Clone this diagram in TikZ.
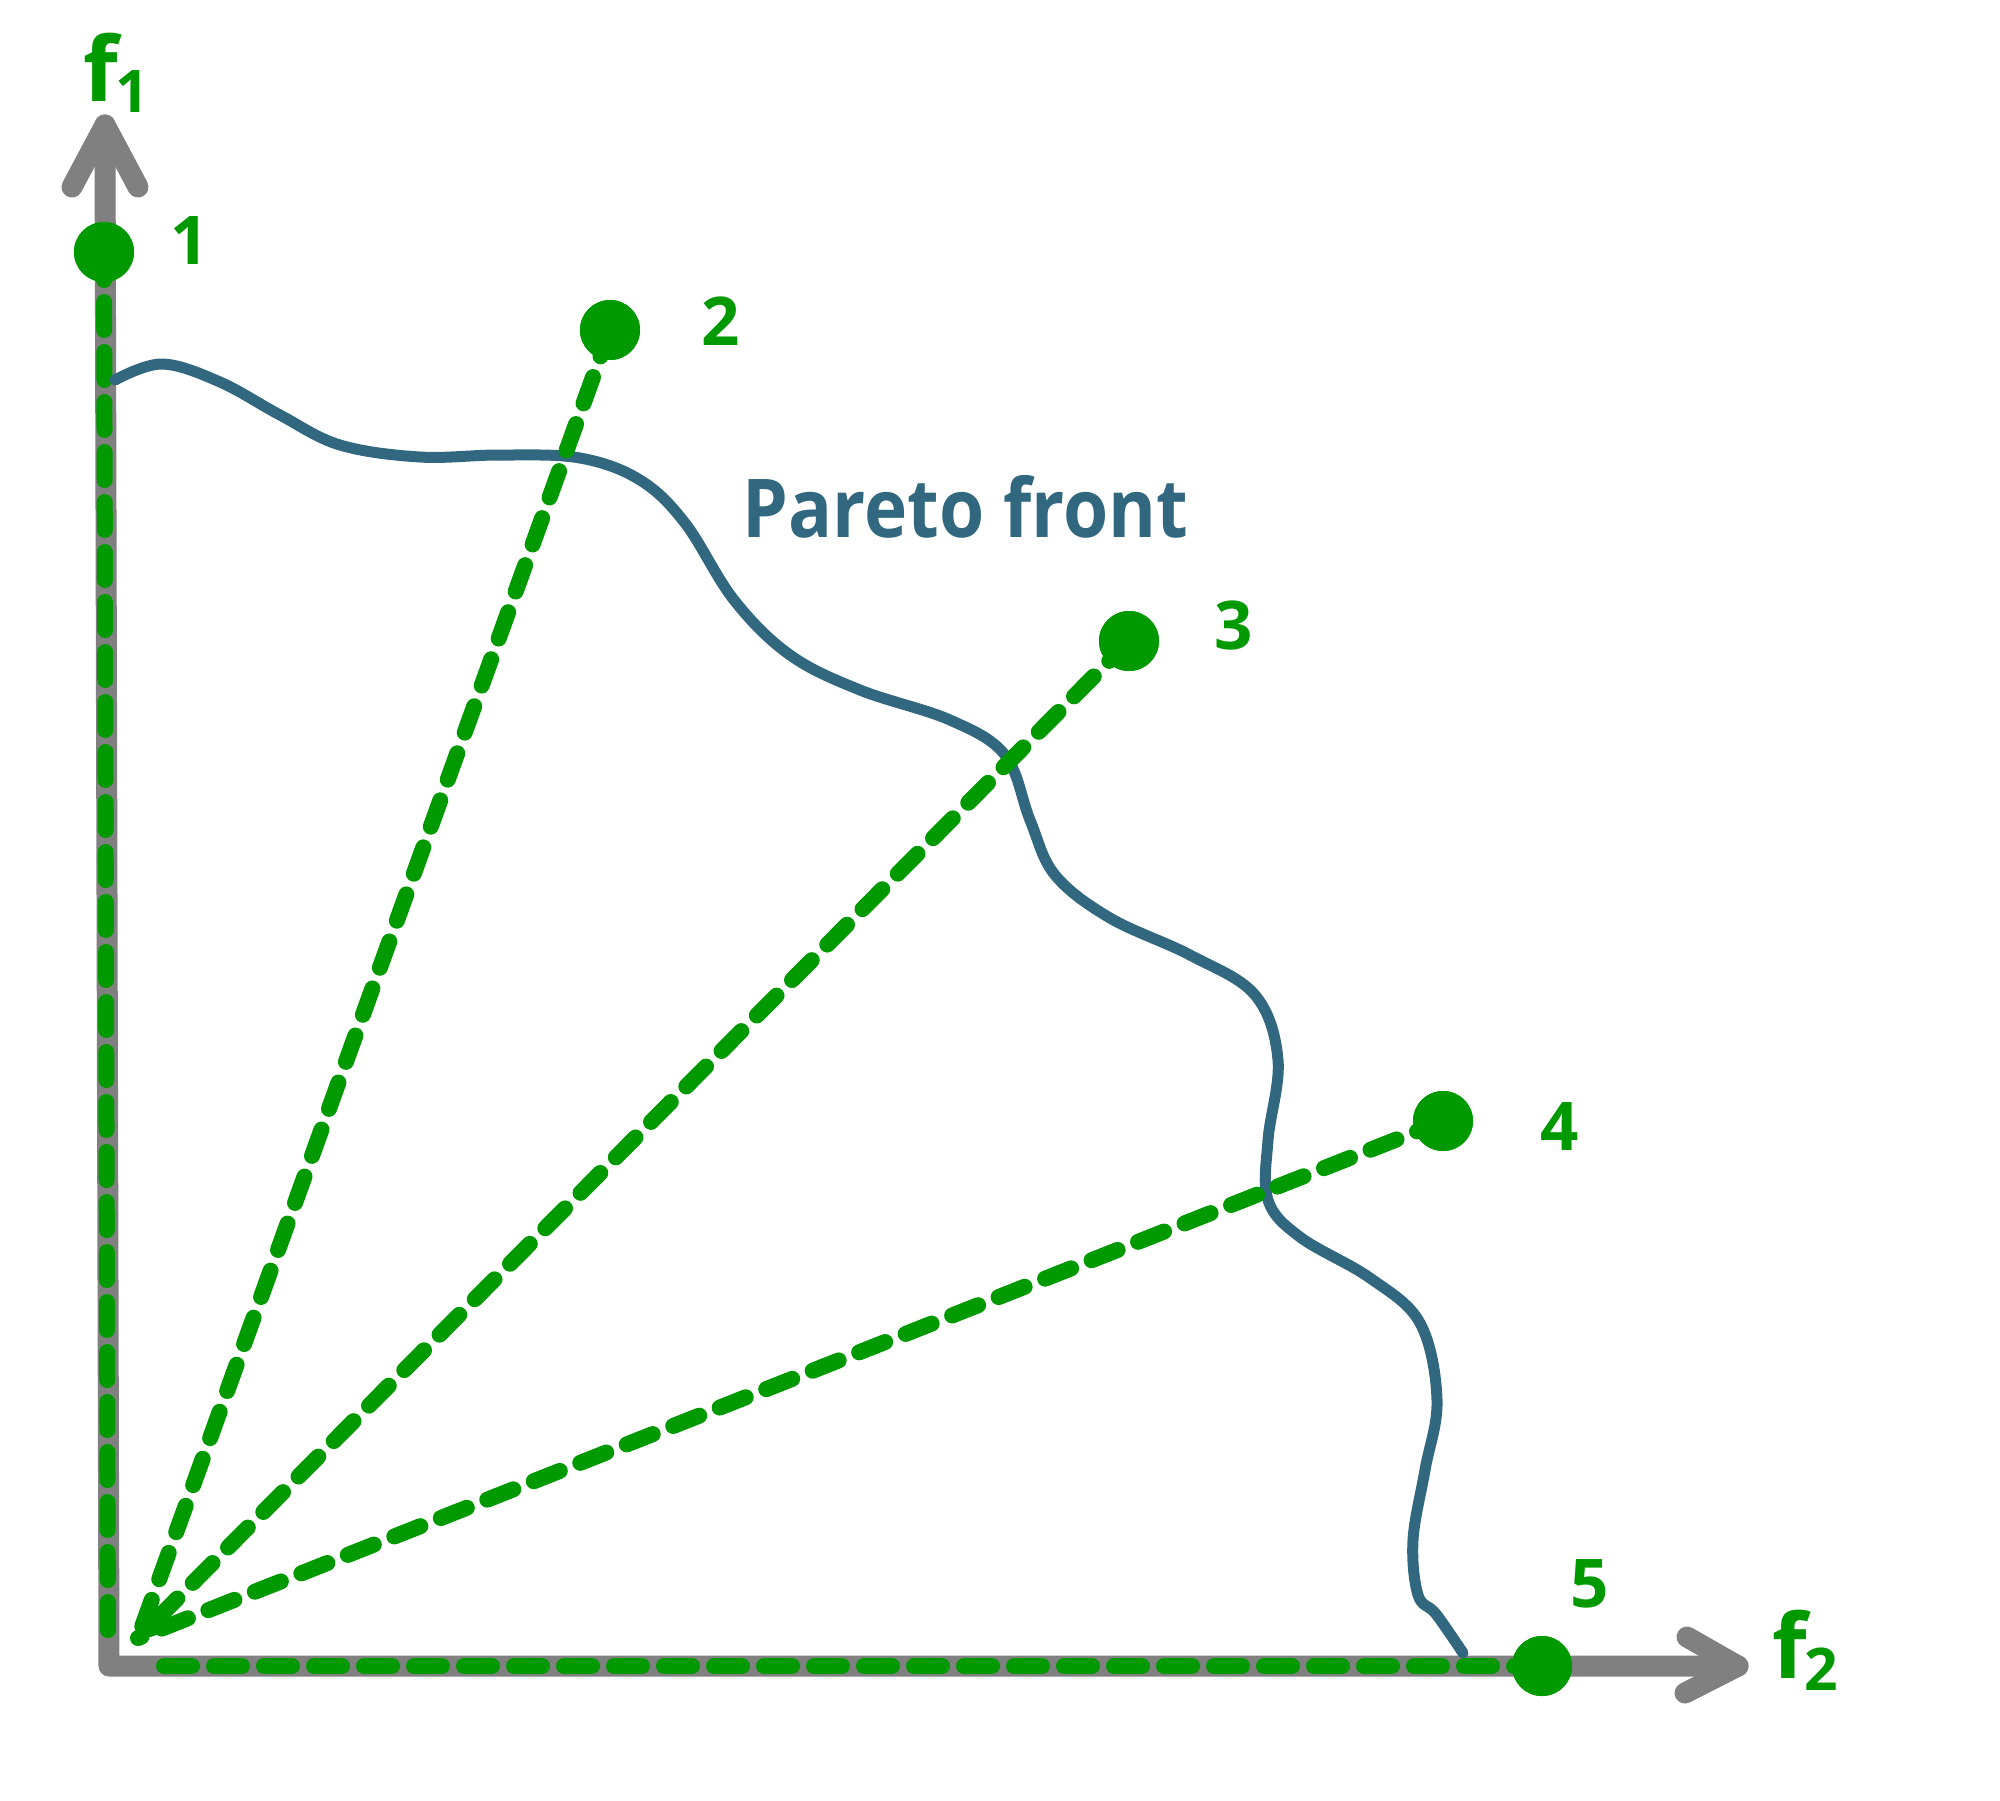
\documentclass[tikz,border=0pt]{standalone}
\usepackage{fontspec}
\setmainfont{Open Sans}
\usetikzlibrary{arrows.meta}
\definecolor{ptgreen}{RGB}{0,153,0}
\definecolor{ptblue}{RGB}{49,104,128}
\definecolor{axgray}{RGB}{128,128,128}
\tikzset{
  axisline/.style={draw=axgray, line width=10.5pt, line cap=round, line join=round},
  dashline/.style={draw=ptgreen, line width=8pt, line cap=round, dash pattern=on 14pt off 11pt},
  frontline/.style={draw=ptblue, line width=5.5pt, line cap=round, line join=round},
  dot/.style={circle, fill=ptgreen, minimum size=30pt, inner sep=0pt},
  numlabel/.style={text=ptgreen, font=\bfseries\fontsize{33.6}{33.6}\selectfont, inner sep=0pt},
  axlabel/.style={text=ptgreen, font=\bfseries\fontsize{44.7}{44.7}\selectfont, inner sep=0pt, anchor=base west},
}
\begin{document}
\begin{tikzpicture}[x=0.5pt,y=-0.5pt]
\useasboundingbox (0,0) rectangle (2000,1800);
% axes
\coordinate (ytip) at (105,125);
\coordinate (corner) at (109,1666);
\coordinate (xtip) at (1738,1666);
\coordinate (yw1) at (72,187);
\coordinate (yw2) at (138,187);
\coordinate (xw1) at (1687,1637);
\coordinate (xw2) at (1685,1693);
\draw[axisline] (ytip) -- (corner) -- (xtip);
\draw[axisline] (yw1) -- (ytip) -- (yw2);
\draw[axisline] (xw1) -- (xtip) -- (xw2);
% points
\node[dot] (p1) at (104,252) {};
\node[dot] (p2) at (610,330) {};
\node[dot] (p3) at (1129,641) {};
\node[dot] (p4) at (1443,1121) {};
\node[dot] (p5) at (1542,1666) {};
\coordinate (tip) at (138,1638);
\coordinate (c1) at (108,1647);
\coordinate (c5) at (143,1666);
% dashed line on the f1 axis
\draw[dashline] (p1.center) -- (c1);
% Pareto front
\draw[frontline] plot[smooth, tension=0.6] coordinates {
 (115,380) (162,364) (220,382) (280,415) (340,445) (420,457) (500,455) (580,458)
 (640,480) (685,523) (734,600) (790,655) (860,690) (950,720) (1005,755)
 (1030,820) (1055,875) (1110,918) (1190,955) (1255,995) (1278,1060)
 (1268,1140) (1268,1200) (1300,1237) (1370,1278) (1420,1323) (1437,1400)
 (1425,1470) (1413,1540) (1418,1595) (1436,1614) (1463,1653)};
% dashed rays
\draw[dashline] (p2.center) -- (tip);
\draw[dashline] (p4.center) -- (tip);
\draw[dashline, -{Stealth[round, length=26pt, width=28pt, inset=7pt]}] (p3.center) -- (tip);
\draw[dashline] (p5.center) -- (c5);
% dots on top
\node[dot] at (p1) {};
\node[dot] at (p2) {};
\node[dot] at (p3) {};
\node[dot] at (p4) {};
\node[dot] at (p5) {};
% labels
\node[numlabel] (l1) at (190,241) {1};
\node[numlabel] (l2) at (721,321) {2};
\node[numlabel] (l3) at (1234,625) {3};
\node[numlabel] (l4) at (1560,1126) {4};
\node[numlabel] (l5) at (1590,1584) {5};
\node[text=ptblue, font=\bfseries\fontsize{40.6}{40.6}\selectfont, inner sep=0pt, anchor=base west] (pf) at (742,537) {\scalebox{0.9}[1]{Pareto front}};
\node[axlabel] (f1) at (83,101) {f\kern-0.03em\raisebox{-5.5pt}{\fontsize{29.4}{29.4}\selectfont 1}};
\node[axlabel] (f2) at (1772,1678) {f\kern-0.03em\raisebox{-6pt}{\fontsize{29.4}{29.4}\selectfont 2}};
\end{tikzpicture}
\end{document}
